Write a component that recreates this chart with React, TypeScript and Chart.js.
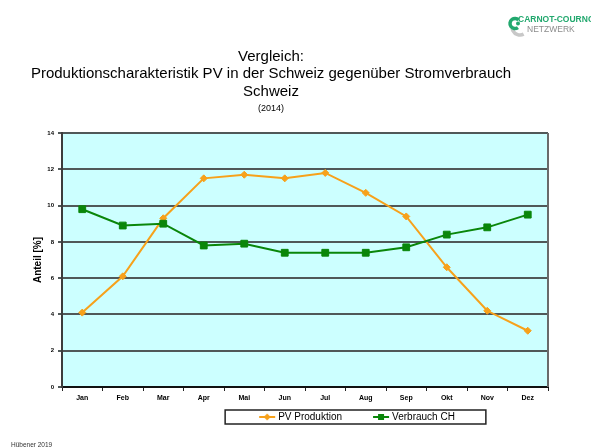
import React, { useEffect, useRef } from 'react';
import { Chart, registerables } from 'chart.js';

Chart.register(...registerables);

const months = ['Jan', 'Feb', 'Mar', 'Apr', 'Mai', 'Jun', 'Jul', 'Aug', 'Sep', 'Okt', 'Nov', 'Dez'];
const pvProduktion = [4.1, 6.1, 9.3, 11.5, 11.7, 11.5, 11.8, 10.7, 9.4, 6.6, 4.2, 3.1];
const verbrauchCH = [9.8, 8.9, 9.0, 7.8, 7.9, 7.4, 7.4, 7.4, 7.7, 8.4, 8.8, 9.5];
const seriesLabels = ['PV Produktion', 'Verbrauch CH'];
const titleLines = ['Vergleich:', 'Produktionscharakteristik PV in der Schweiz gegenüber Stromverbrauch', 'Schweiz'];
const subtitleText = '(2014)';
const yAxisTitle = 'Anteil [%]';
const logoLines = ['CARNOT-COURNOT', 'NETZWERK'];
const footerText = 'Hübener 2019';
const yMin = 0;
const yMax = 14;
const yStep = 2;

const FONT = 'Arial, "Liberation Sans", sans-serif';
const PV_COLOR = '#F7A11A';
const CH_COLOR = '#0A860A';
const PLOT_BG = '#CCFFFF';
const GRID_COLOR = '#505858';
const LOGO_GREEN = '#22A86E';

function legendImage(color: string, style: 'rect' | 'diamond'): HTMLCanvasElement {
  const c = document.createElement('canvas');
  c.width = 46;
  c.height = 10;
  const ctx = c.getContext('2d')!;
  ctx.strokeStyle = color;
  ctx.lineWidth = 2;
  ctx.beginPath();
  ctx.moveTo(29, 5);
  ctx.lineTo(45, 5);
  ctx.stroke();
  ctx.fillStyle = color;
  if (style === 'rect') {
    ctx.fillRect(34, 2, 6, 6);
  } else {
    ctx.beginPath();
    ctx.moveTo(37, 1.5);
    ctx.lineTo(40.5, 5);
    ctx.lineTo(37, 8.5);
    ctx.lineTo(33.5, 5);
    ctx.closePath();
    ctx.fill();
  }
  return c;
}

const plotBgPlugin = {
  id: 'plotBg',
  beforeDraw(chart: any) {
    const { ctx, chartArea } = chart;
    if (!chartArea) return;
    ctx.save();
    ctx.fillStyle = PLOT_BG;
    ctx.fillRect(chartArea.left, chartArea.top, chartArea.right - chartArea.left, chartArea.bottom - chartArea.top);
    ctx.restore();
  },
  beforeDatasetsDraw(chart: any) {
    const { ctx, chartArea } = chart;
    ctx.save();
    ctx.strokeStyle = '#6a6a6a';
    ctx.lineWidth = 2;
    ctx.beginPath();
    ctx.moveTo(chartArea.right, chartArea.top);
    ctx.lineTo(chartArea.right, chartArea.bottom);
    ctx.stroke();
    ctx.restore();
  },
};

const legendShiftPlugin = {
  id: 'legendShift',
  afterLayout(chart: any) {
    const lg = chart.legend;
    if (lg) {
      lg.left += 70;
      lg.right += 70;
    }
  },
};

const decorPlugin = {
  id: 'decor',
  afterDraw(chart: any) {
    const ctx = chart.ctx;
    ctx.save();
    // Title block
    ctx.fillStyle = '#000';
    ctx.textAlign = 'center';
    ctx.textBaseline = 'alphabetic';
    ctx.font = `15px ${FONT}`;
    const cx = 271;
    ctx.fillText(titleLines[0], cx, 60.5);
    ctx.fillText(titleLines[1], cx, 78);
    ctx.fillText(titleLines[2], cx, 96);
    ctx.font = `9px ${FONT}`;
    ctx.fillText(subtitleText, cx, 110.5);

    // Legend frame
    const lg = chart.legend;
    if (lg && lg.legendHitBoxes && lg.legendHitBoxes.length) {
      const hb = lg.legendHitBoxes;
      const first = hb[0];
      const last = hb[hb.length - 1];
      const l = first.left - 8;
      const r = last.left + last.width + 31;
      const t = first.top - 2;
      const b = first.top + first.height + 2;
      ctx.strokeStyle = '#222';
      ctx.lineWidth = 1.5;
      ctx.strokeRect(l, t, r - l, b - t);
    }

    // Logo icon
    ctx.strokeStyle = '#c8c8c8';
    ctx.lineWidth = 3.5;
    ctx.beginPath();
    ctx.arc(520, 27, 8, 0.35 * Math.PI, 0.95 * Math.PI);
    ctx.stroke();
    ctx.strokeStyle = LOGO_GREEN;
    ctx.lineWidth = 3.5;
    ctx.beginPath();
    ctx.arc(515, 23.5, 5, 0.3 * Math.PI, 1.75 * Math.PI);
    ctx.stroke();
    ctx.fillStyle = LOGO_GREEN;
    ctx.beginPath();
    ctx.arc(518, 23.5, 2, 0, Math.PI * 2);
    ctx.fill();

    // Logo text
    ctx.textAlign = 'left';
    ctx.fillStyle = LOGO_GREEN;
    ctx.font = `bold 8.5px ${FONT}`;
    ctx.fillText(logoLines[0], 518, 21.5);
    ctx.fillStyle = '#8c8c8c';
    ctx.font = `8.5px ${FONT}`;
    ctx.fillText(logoLines[1], 527, 31.5);

    // Footer
    ctx.fillStyle = '#333';
    ctx.font = `6.5px ${FONT}`;
    ctx.fillText(footerText, 11, 447);
    ctx.restore();
  },
};

export default function App() {
  const canvasRef = useRef<HTMLCanvasElement | null>(null);

  useEffect(() => {
    if (!canvasRef.current) return;
    Chart.defaults.font.family = FONT;
    const pvImg = legendImage(PV_COLOR, 'diamond');
    const chImg = legendImage(CH_COLOR, 'rect');

    const chart = new Chart(canvasRef.current, {
      type: 'line',
      data: {
        labels: months,
        datasets: [
          {
            label: seriesLabels[0],
            data: pvProduktion,
            borderColor: PV_COLOR,
            backgroundColor: PV_COLOR,
            borderWidth: 2,
            pointStyle: 'rectRot',
            pointRadius: 3.5,
            pointBorderWidth: 1,
            pointBackgroundColor: PV_COLOR,
            pointBorderColor: PV_COLOR,
            tension: 0,
            order: 1,
          },
          {
            label: seriesLabels[1],
            data: verbrauchCH,
            borderColor: CH_COLOR,
            backgroundColor: CH_COLOR,
            borderWidth: 2,
            pointStyle: 'rect',
            pointRadius: 4.8,
            pointBorderWidth: 1,
            pointBackgroundColor: CH_COLOR,
            pointBorderColor: CH_COLOR,
            tension: 0,
            order: 0,
          },
        ],
      },
      options: {
        animation: false,
        responsive: true,
        maintainAspectRatio: false,
        layout: { padding: { top: 133, left: 0, right: 43, bottom: 16 } },
        plugins: {
          title: { display: false },
          tooltip: { enabled: false },
          legend: {
            display: true,
            position: 'bottom',
            labels: {
              usePointStyle: true,
              pointStyleWidth: 40,
              padding: 5,
              color: '#000',
              font: { size: 10, family: FONT },
              generateLabels: () => [
                { text: seriesLabels[0], pointStyle: pvImg, fillStyle: PV_COLOR, strokeStyle: PV_COLOR, lineWidth: 0, hidden: false, datasetIndex: 0, fontColor: '#000' },
                { text: seriesLabels[1], pointStyle: chImg, fillStyle: CH_COLOR, strokeStyle: CH_COLOR, lineWidth: 0, hidden: false, datasetIndex: 1, fontColor: '#000' },
              ] as any,
            },
          },
        },
        scales: {
          x: {
            type: 'category',
            offset: true,
            afterFit: (scale: any) => { scale.height = 20; },
            grid: {
              display: true,
              offset: true,
              drawOnChartArea: false,
              drawTicks: true,
              tickLength: 4,
              color: '#222',
              lineWidth: 1,
            },
            border: { display: true, color: '#111', width: 2 },
            ticks: {
              color: '#000',
              padding: 3,
              maxRotation: 0,
              autoSkip: false,
              font: { size: 7, weight: 'bold', family: FONT },
            },
          },
          y: {
            min: yMin,
            max: yMax,
            afterFit: (scale: any) => { scale.width = 62; },
            grid: {
              color: GRID_COLOR,
              lineWidth: 2,
              drawTicks: true,
              tickLength: 4,
            },
            border: { display: true, color: '#3c3c3c', width: 2 },
            ticks: {
              stepSize: yStep,
              color: '#000',
              padding: 4,
              font: { size: 6, weight: 'bold', family: FONT },
            },
            title: {
              display: true,
              text: yAxisTitle,
              color: '#000',
              font: { size: 10, weight: 'bold', family: FONT, lineHeight: 1.2 },
              padding: { top: 32, bottom: 0 },
            },
          },
        },
      },
      plugins: [plotBgPlugin, legendShiftPlugin, decorPlugin],
    } as any);

    return () => chart.destroy();
  }, []);

  return (
    <div style={{ position: 'absolute', left: 0, top: 0, width: 591, height: 448, background: '#fff' }}>
      <canvas ref={canvasRef} />
    </div>
  );
}
